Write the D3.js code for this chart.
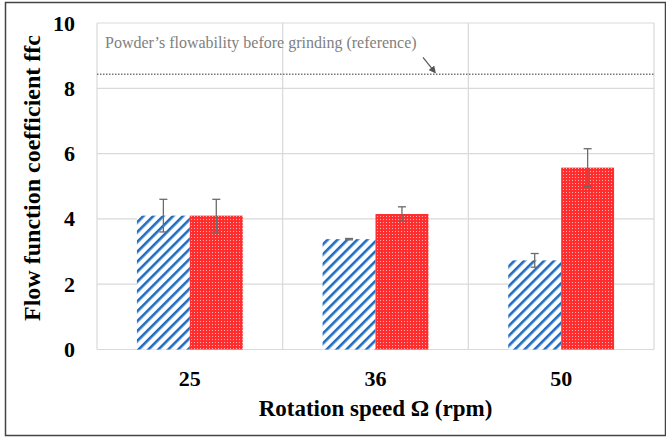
<!DOCTYPE html>
<html>
<head>
<meta charset="utf-8">
<script src="https://cdn.jsdelivr.net/npm/d3@7"></script>
<style>
  body { margin: 0; background: #fff; }
</style>
</head>
<body>
<div id="chart"></div>
<script>
// ffc vs rotation speed, two series with error bars
var speeds = ["25", "36", "50"];
var seriesA = [4.1, 3.38, 2.73];     // blue hatched
var errA = [0.5, 0.02, 0.21];
var seriesB = [4.1, 4.15, 5.57];     // red dotted
var errB = [0.5, 0.22, 0.58];
var yTicks = [0, 2, 4, 6, 8, 10];
var refValue = 8.43;
var refLabel = "Powder\u2019s flowability before grinding (reference)";

var serif = '"Liberation Serif", "Times New Roman", serif';

var svgWidth = 666;
var svgHeight = 439;
var margin = { top: 23, right: 12, bottom: 89.5, left: 97 };
var width = svgWidth - margin.left - margin.right;
var height = svgHeight - margin.top - margin.bottom;

var svg = d3.select("#chart").append("svg")
  .attr("width", svgWidth)
  .attr("height", svgHeight);

// outer frame
svg.append("rect")
  .attr("x", 5.5).attr("y", 2.5)
  .attr("width", 660).attr("height", 433)
  .attr("fill", "none").attr("stroke", "#444").attr("stroke-width", 1.5);

var defs = svg.append("defs");
var hatch = defs.append("pattern")
  .attr("id", "hatch")
  .attr("patternUnits", "userSpaceOnUse")
  .attr("width", 7).attr("height", 7)
  .attr("patternTransform", "rotate(45)");
hatch.append("rect").attr("width", 7).attr("height", 7).attr("fill", "#fff");
hatch.append("rect").attr("x", 0).attr("width", 2.6).attr("height", 7).attr("fill", "#1f6cc0");

var dots = defs.append("pattern")
  .attr("id", "dots")
  .attr("patternUnits", "userSpaceOnUse")
  .attr("width", 3).attr("height", 3);
dots.append("rect").attr("width", 3).attr("height", 3).attr("fill", "#ff2e2e");
dots.append("rect").attr("x", 1).attr("y", 1).attr("width", 1).attr("height", 1).attr("fill", "#ffb0b0");

var chartGroup = svg.append("g")
  .attr("transform", `translate(${margin.left}, ${margin.top})`);

var xScale = d3.scaleBand().domain(speeds).range([0, width]);
var yScale = d3.scaleLinear().domain([0, 10]).range([height, 0]);
var barW = xScale.bandwidth() * 0.285;

// grid
chartGroup.selectAll(".hgrid")
  .data(yTicks)
  .enter()
  .append("line")
  .attr("x1", 0).attr("x2", width)
  .attr("y1", d => yScale(d)).attr("y2", d => yScale(d))
  .attr("stroke", "#d9d9d9").attr("stroke-width", 1.2);

var bounds = speeds.map(d => xScale(d)).concat([width]);
chartGroup.selectAll(".vgrid")
  .data(bounds)
  .enter()
  .append("line")
  .attr("x1", d => d).attr("x2", d => d)
  .attr("y1", 0).attr("y2", height)
  .attr("stroke", "#d9d9d9").attr("stroke-width", 1.2);

// bars
var rows = speeds.map((s, i) => ({ s: s, a: seriesA[i], ea: errA[i], b: seriesB[i], eb: errB[i] }));
var center = d => xScale(d.s) + xScale.bandwidth() / 2;

chartGroup.selectAll(".barA")
  .data(rows)
  .enter()
  .append("rect")
  .attr("x", d => center(d) - barW)
  .attr("y", d => yScale(d.a))
  .attr("width", barW)
  .attr("height", d => height - yScale(d.a))
  .attr("fill", "url(#hatch)");

chartGroup.selectAll(".barB")
  .data(rows)
  .enter()
  .append("rect")
  .attr("x", d => center(d))
  .attr("y", d => yScale(d.b))
  .attr("width", barW)
  .attr("height", d => height - yScale(d.b))
  .attr("fill", "url(#dots)");

// error bars
var errs = [];
rows.forEach(function(d) {
  errs.push({ x: center(d) - barW / 2, v: d.a, e: d.ea });
  errs.push({ x: center(d) + barW / 2, v: d.b, e: d.eb });
});
var eg = chartGroup.selectAll(".err")
  .data(errs)
  .enter()
  .append("g")
  .attr("stroke", "#6b6b6b").attr("stroke-width", 1.3);
eg.append("line")
  .attr("x1", d => d.x).attr("x2", d => d.x)
  .attr("y1", d => yScale(d.v + d.e)).attr("y2", d => yScale(d.v - d.e));
eg.append("line")
  .attr("x1", d => d.x - 4).attr("x2", d => d.x + 4)
  .attr("y1", d => yScale(d.v + d.e)).attr("y2", d => yScale(d.v + d.e));
eg.append("line")
  .attr("x1", d => d.x - 4).attr("x2", d => d.x + 4)
  .attr("y1", d => yScale(d.v - d.e)).attr("y2", d => yScale(d.v - d.e));

// reference line
chartGroup.append("line")
  .attr("x1", 0).attr("x2", width)
  .attr("y1", yScale(refValue)).attr("y2", yScale(refValue))
  .attr("stroke", "#777").attr("stroke-width", 1.5)
  .attr("stroke-dasharray", "1.5,1.5");

chartGroup.append("text")
  .attr("x", 8).attr("y", yScale(refValue) - 26)
  .style("font-family", serif)
  .style("font-size", "16px").attr("fill", "#808080")
  .text(refLabel);

defs.append("marker")
  .attr("id", "arrow")
  .attr("viewBox", "0 0 10 10")
  .attr("refX", 8).attr("refY", 5)
  .attr("markerWidth", 6).attr("markerHeight", 6)
  .attr("orient", "auto")
  .append("path").attr("d", "M0,0 L10,5 L0,10 z").attr("fill", "#555");

chartGroup.append("line")
  .attr("x1", 326).attr("y1", yScale(refValue) - 17)
  .attr("x2", 338).attr("y2", yScale(refValue) - 2)
  .attr("stroke", "#555").attr("stroke-width", 1.2)
  .attr("marker-end", "url(#arrow)");

// axes
var leftAxis = d3.axisLeft(yScale).tickValues(yTicks).tickSize(0).tickPadding(22);
chartGroup.append("g")
  .call(leftAxis)
  .call(g => g.select(".domain").remove())
  .selectAll("text")
  .style("font-family", serif)
  .style("font-size", "22px").style("font-weight", "bold").attr("fill", "#000");

var bottomAxis = d3.axisBottom(xScale).tickSize(0).tickPadding(21);
chartGroup.append("g")
  .attr("transform", `translate(0, ${height})`)
  .call(bottomAxis)
  .call(g => g.select(".domain").remove())
  .selectAll("text")
  .style("font-family", serif)
  .style("font-size", "22px").style("font-weight", "bold").attr("fill", "#000");

chartGroup.append("text")
  .attr("transform", "rotate(-90)")
  .attr("x", -155)
  .attr("y", -57)
  .attr("text-anchor", "middle")
  .style("font-family", serif)
  .style("font-size", "24px").style("font-weight", "bold")
  .text("Flow function coefficient ffc");

chartGroup.append("text")
  .attr("x", width / 2)
  .attr("y", height + 66.5)
  .attr("text-anchor", "middle")
  .style("font-family", serif)
  .style("font-size", "23px").style("font-weight", "bold")
  .text("Rotation speed \u03A9 (rpm)");
</script>
</body>
</html>
